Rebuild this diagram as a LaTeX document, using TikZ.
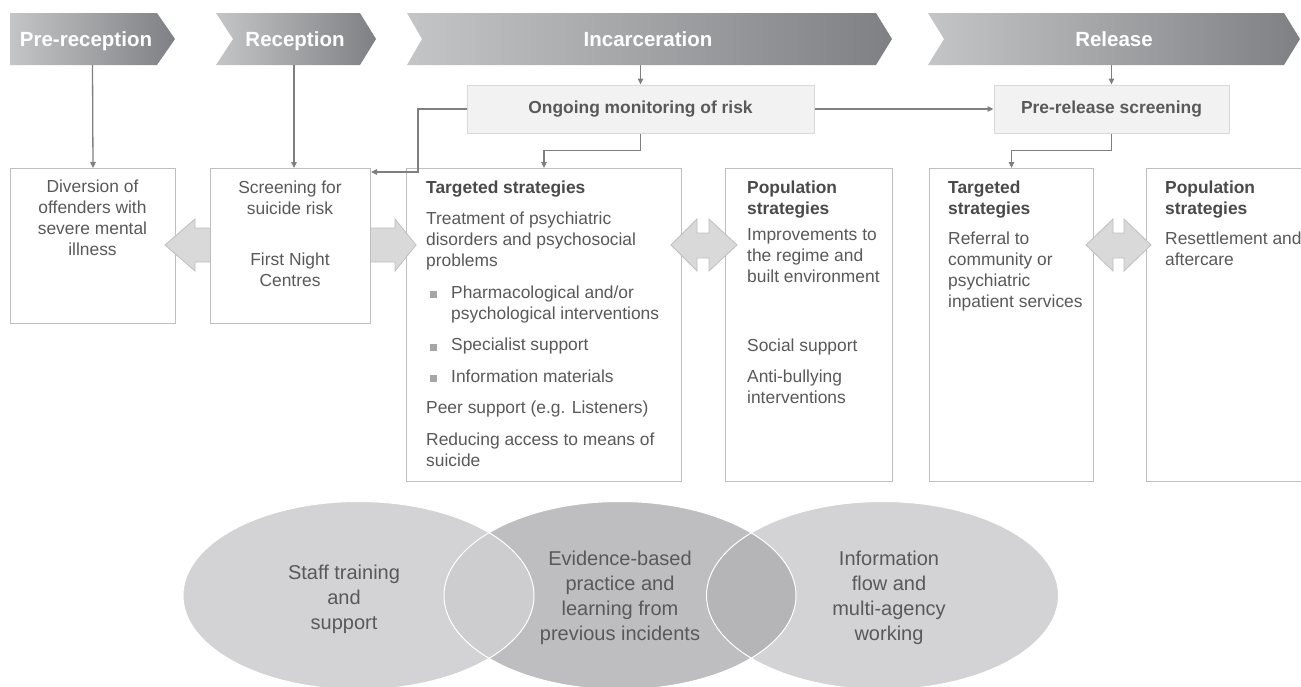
\documentclass[tikz,border=0pt]{standalone}
\usepackage{fontspec}
\setmainfont{Liberation Sans}
\usetikzlibrary{arrows.meta}
\definecolor{txt}{HTML}{595959}
\definecolor{head}{HTML}{4A4A4A}
\definecolor{chevL}{HTML}{C4C5C7}
\definecolor{chevR}{HTML}{7F8083}
\definecolor{boxline}{HTML}{BFBFBF}
\definecolor{conncol}{HTML}{7F7F7F}
\definecolor{blkfill}{HTML}{D9D9D9}
\definecolor{blkline}{HTML}{BFBFBF}
\definecolor{monfill}{HTML}{F2F2F2}
\definecolor{monline}{HTML}{D9D9D9}
\definecolor{bulc}{HTML}{A6A6A6}
\definecolor{ellA}{HTML}{D3D3D5}
\definecolor{ellB}{HTML}{BEBEC1}
\definecolor{lensA}{HTML}{CDCDCF}
\definecolor{lensB}{HTML}{B5B5B8}
\newcommand{\tbl}[2]{\begin{tabular}[t]{@{}#1@{}}#2\end{tabular}}
\newcommand{\bul}{\hspace*{4pt}\textcolor{bulc}{\rule{7pt}{7pt}}\hspace*{14pt}}
\begin{document}
\begin{tikzpicture}[x=1pt,y=-1pt,
  chevtext/.style={text=white, font=\fontsize{20.5}{24}\selectfont\bfseries, text height=15pt, text depth=0pt, inner sep=0pt},
  box/.style={draw=boxline, line width=1pt, fill=white, inner sep=0pt, anchor=north west},
  mbox/.style={draw=monline, line width=1pt, fill=monfill, inner sep=0pt, text=txt, font=\fontsize{17.4}{21}\selectfont\bfseries},
  body/.style={text=txt, font=\fontsize{17.4}{21}\selectfont, inner sep=0pt},
  elltext/.style={text=txt, font=\fontsize{20}{25}\selectfont, inner sep=0pt, anchor=base},
  conn/.style={draw=conncol, line width=1.3pt, -{Triangle[length=6pt,width=5.5pt]}},
  blk/.style={fill=blkfill, draw=blkline, line width=0.8pt, line join=miter}
]
\useasboundingbox (0,0) rectangle (1301,686);

% ---------- chevrons ----------
\shade[left color=chevL, right color=chevR] (10,13) -- (157,13) -- (175,39) -- (157,65) -- (10,65) -- cycle;
\shade[left color=chevL, right color=chevR] (216,13) -- (360,13) -- (376,39) -- (360,65) -- (216,65) -- (233,39) -- cycle;
\shade[left color=chevL, right color=chevR] (407,13) -- (876,13) -- (892,39) -- (876,65) -- (407,65) -- (422,39) -- cycle;
\shade[left color=chevL, right color=chevR] (928,13) -- (1284,13) -- (1300,39) -- (1284,65) -- (928,65) -- (944,39) -- cycle;
\node[chevtext] (pre) at (86,39) {Pre-reception};
\node[chevtext] (rec) at (295,39) {Reception};
\node[chevtext] (inc) at (648,39) {Incarceration};
\node[chevtext] (rel) at (1114,39) {Release};
\coordinate (preb) at (92.5,65);
\coordinate (recb) at (294,65);
\coordinate (incb) at (640.5,65);
\coordinate (relb) at (1111.5,65);

% ---------- monitoring boxes ----------
\node[mbox, minimum width=347pt, minimum height=48pt] (mon) at (640.5,109) {Ongoing monitoring of risk};
\node[mbox, minimum width=235pt, minimum height=48pt] (prs) at (1111.5,109) {Pre-release screening};

% ---------- strategy boxes ----------
\node[box, minimum width=165pt, minimum height=155pt] (div) at (10,168) {};
\node[box, minimum width=275pt, minimum height=313pt] (tgt) at (406,168) {};
\node[box, minimum width=167pt, minimum height=313pt] (pop) at (725,168) {};
\node[box, minimum width=164pt, minimum height=313pt] (trl) at (929,168) {};
\node[box, minimum width=170pt, minimum height=313pt] (prl) at (1146,168) {};

% ---------- block arrows ----------
\path[blk] (165,245) -- (195,219) -- (195,228) -- (215,228) -- (215,262) -- (195,262) -- (195,271) -- cycle;
\path[blk] (416,245) -- (395,219) -- (395,228) -- (365,228) -- (365,262) -- (395,262) -- (395,271) -- cycle;
\node[box, minimum width=160pt, minimum height=155pt] (scr) at (210,168) {};
\path[blk] (671,245) -- (697,219) -- (697,233) -- (709,233) -- (709,219) -- (737,245) -- (709,271) -- (709,258) -- (697,258) -- (697,271) -- cycle;
\path[blk] (1086,245) -- (1113,219) -- (1113,233) -- (1124,233) -- (1124,219) -- (1151,245) -- (1124,271) -- (1124,258) -- (1113,258) -- (1113,271) -- cycle;

% ---------- connectors ----------
\draw[conn] (preb) -- (div.north);
\draw[conn] (recb) -- (recb |- scr.north);
\draw[conn] (incb) -- (mon.north);
\draw[conn] (relb) -- (prs.north);
\coordinate (k1) at (418,172);
\draw[conn] (mon.west) -| (k1) -- (k1 -| scr.east);
\draw[conn] (mon.south) -- ++(0,17) -| (tgt.north);
\draw[conn] (mon.east) -- (prs.west);
\draw[conn] (prs.south) -- ++(0,17) -| (trl.north);

% ---------- box texts ----------
\node[body, anchor=base] (divT) at (92.5,192) {\tbl{c}{Diversion of\\ offenders with\\ severe mental\\ illness}};
\node[body, anchor=base] (scrT) at (290,193) {\tbl{c}{Screening for\\ suicide risk\\[30pt] First Night\\ Centres}};
\node[body, anchor=base west] (tgtT) at (426,193) {\tbl{l}{%
\textcolor{head}{\bfseries Targeted strategies}\\[10.5pt]
Treatment of psychiatric\\
disorders and psychosocial\\
problems\\[10.5pt]
\bul Pharmacological and/or\\
\hspace*{25pt}psychological interventions\\[10.5pt]
\bul Specialist support\\[10.5pt]
\bul Information materials\\[10.5pt]
Peer support (e.g. Listeners)\\[10.5pt]
Reducing access to means of\\
suicide}};
\node[body, anchor=base west] (popT) at (747,193) {\tbl{l}{%
\textcolor{head}{\bfseries Population}\\
\textcolor{head}{\bfseries strategies}\\[5pt]
Improvements to\\
the regime and\\
built environment\\[48pt]
Social support\\[10pt]
Anti-bullying\\
interventions}};
\node[body, anchor=base west] (trlT) at (948,193) {\tbl{l}{%
\textcolor{head}{\bfseries Targeted}\\
\textcolor{head}{\bfseries strategies}\\[9pt]
Referral to\\
community or\\
psychiatric\\
inpatient services}};
\node[body, anchor=base west] (prlT) at (1165,193) {\tbl{l}{%
\textcolor{head}{\bfseries Population}\\
\textcolor{head}{\bfseries strategies}\\[9pt]
Resettlement and\\
aftercare}};

% ---------- ellipses ----------
\fill[ellA] (358.5,595.5) ellipse [x radius=175.5, y radius=94];
\fill[ellB] (620,595.5) ellipse [x radius=176, y radius=94];
\fill[ellA] (882.5,595.5) ellipse [x radius=176, y radius=94];
\begin{scope}
  \clip (358.5,595.5) ellipse [x radius=175.5, y radius=94];
  \fill[lensA] (620,595.5) ellipse [x radius=176, y radius=94];
\end{scope}
\begin{scope}
  \clip (882.5,595.5) ellipse [x radius=176, y radius=94];
  \fill[lensB] (620,595.5) ellipse [x radius=176, y radius=94];
\end{scope}
\draw[white, line width=1pt] (358.5,595.5) ellipse [x radius=175.5, y radius=94];
\draw[white, line width=1pt] (620,595.5) ellipse [x radius=176, y radius=94];
\draw[white, line width=1pt] (882.5,595.5) ellipse [x radius=176, y radius=94];
\node[elltext] (e1) at (344,579) {\tbl{c}{Staff training\\ and\\ support}};
\node[elltext] (e2) at (620,565) {\tbl{c}{Evidence-based\\ practice and\\ learning from\\ previous incidents}};
\node[elltext] (e3) at (889,565) {\tbl{c}{Information\\ flow and\\ multi-agency\\ working}};
\end{tikzpicture}
\end{document}
